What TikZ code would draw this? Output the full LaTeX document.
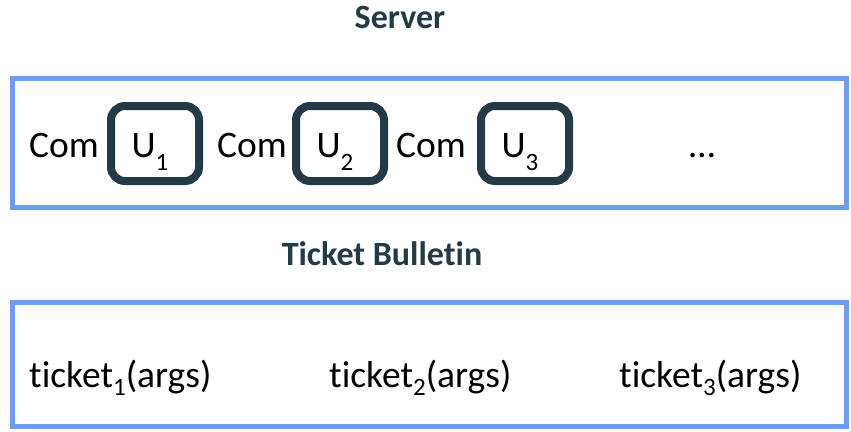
\documentclass[tikz,border=0pt]{standalone}
\usepackage{fontspec}
\setmainfont{Carlito}[Ligatures=NoCommon]
\definecolor{bluebord}{HTML}{6D9EEB}
\definecolor{darkslate}{HTML}{253A47}
\newcommand{\sbs}[2]{\raisebox{-#1pt}{\fontsize{25}{25}\selectfont #2}}
\begin{document}
\begin{tikzpicture}[x=1pt,y=-1pt,
  panel/.style={draw=bluebord,line width=5pt},
  ubox/.style={draw=darkslate,line width=8pt,rounded corners=14pt,minimum width=88pt,minimum height=75pt,inner sep=0pt},
  txt/.style={font=\fontsize{37.5}{44}\selectfont,inner sep=0pt,text=black},
  ttl/.style={font=\fontsize{34}{40}\selectfont\bfseries,inner sep=0pt,text=darkslate}]
\useasboundingbox (0,0) rectangle (851,431);
\fill[white] (0,0) rectangle (851,431);
\node[ttl,anchor=base] (server) at (400,28) {Server};
\draw[panel] (12,78.5) rectangle (846,207.5);
\node[ubox] (u1) at (155,143.5) {};
\node[ubox] (u2) at (340,143.5) {};
\node[ubox] (u3) at (525,143.5) {};
\node[txt,anchor=base] (l1) at (150,157) {U\sbs{13}{1}};
\node[txt,anchor=base] (l2) at (335,157) {U\sbs{13}{2}};
\node[txt,anchor=base] (l3) at (520,157) {U\sbs{13}{3}};
\node[txt,anchor=base west] (c1) at (29,157) {Com};
\node[txt,anchor=base west] (c2) at (217,157) {Com};
\node[txt,anchor=base west] (c3) at (396,157) {Com};
\node[txt,anchor=base] (dots) at (702,157) {…};
\node[ttl,anchor=base] (tb) at (382,265) {Ticket Bulletin};
\draw[panel] (12,302.5) rectangle (846,426);
\node[txt,anchor=base west] (t1) at (29,387) {ticket\sbs{8}{1}(args)};
\node[txt,anchor=base west] (t2) at (329,387) {ticket\sbs{8}{2}(args)};
\node[txt,anchor=base west] (t3) at (619,387) {ticket\sbs{8}{3}(args)};
\end{tikzpicture}
\end{document}
